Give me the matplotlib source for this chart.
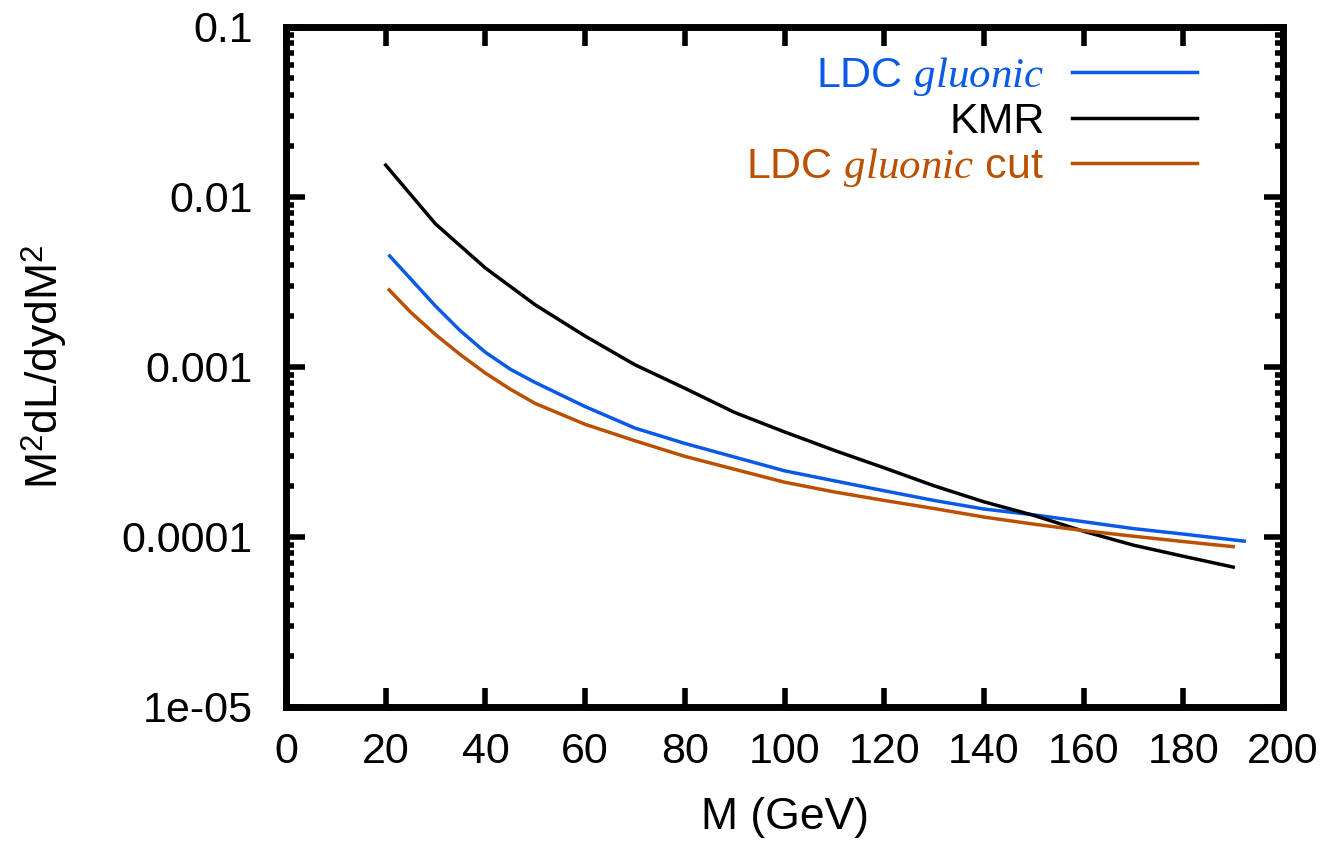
import matplotlib
matplotlib.use("Agg")
import matplotlib.pyplot as plt
from matplotlib.ticker import FixedLocator, FixedFormatter, LogLocator, NullFormatter

plt.rcParams['font.family'] = ['Liberation Sans', 'DejaVu Sans']
plt.rcParams['mathtext.fontset'] = 'custom'
plt.rcParams['mathtext.it'] = 'Liberation Serif:italic'
plt.rcParams['mathtext.rm'] = 'Liberation Sans'

# KMR
m_kmr = [20, 30, 40, 50, 60, 70, 80, 90, 100, 110, 120, 130, 140, 150, 160, 170, 180, 190]
v_kmr = [0.0154, 0.00694, 0.00382, 0.00232, 0.00152, 0.00103, 0.00075, 0.00054, 0.000415,
         0.000323, 0.000255, 0.000200, 0.000161, 0.000134, 0.000108, 0.0000895, 0.0000770, 0.0000665]

# LDC gluonic
m_ldc = [20.8, 25, 30, 35, 40, 45, 50, 60, 70, 80, 90, 100, 110, 120, 130, 140, 150, 160, 170, 180, 192.2]
v_ldc = [0.0045, 0.0033, 0.00228, 0.00163, 0.00122, 0.00097, 0.00081, 0.000585, 0.000437, 0.000355,
         0.000295, 0.000245, 0.000214, 0.000187, 0.000164, 0.000146, 0.000135, 0.000123, 0.000112,
         0.000104, 0.0000945]

# LDC gluonic cut
m_cut = [20.7, 25, 30, 35, 40, 45, 50, 60, 70, 80, 90, 100, 110, 120, 130, 140, 150, 160, 170, 180, 190]
v_cut = [0.00284, 0.0021, 0.00155, 0.00118, 0.00092, 0.00074, 0.000610, 0.000460, 0.000368, 0.000298,
         0.000250, 0.000210, 0.000184, 0.000164, 0.000147, 0.000131, 0.000119, 0.000109, 0.000101,
         0.0000940, 0.0000877]

x_ticks = [0, 20, 40, 60, 80, 100, 120, 140, 160, 180, 200]
y_ticks = [1e-5, 1e-4, 1e-3, 1e-2, 1e-1]
y_labels = ['1e-05', '0.0001', '0.001', '0.01', '0.1']

blue = '#0a5ae6'
orange = '#bb5000'
FS = 31
LFS = 32

fig = plt.figure(figsize=(13.29, 8.49), dpi=100)
ax = fig.add_axes([0.2152, 0.1673, 0.7502, 0.8009])

ax.plot(m_ldc, v_ldc, color=blue, lw=2.5, label=r'LDC $\mathit{gluonic}$')
ax.plot(m_kmr, v_kmr, color='black', lw=2.5, label='KMR')
ax.plot(m_cut, v_cut, color=orange, lw=2.5, label=r'LDC $\mathit{gluonic}$ cut')

ax.set_yscale('log')
ax.set_xlim(0, 200)
ax.set_ylim(1e-5, 0.1)
ax.xaxis.set_major_locator(FixedLocator(x_ticks))
ax.yaxis.set_major_locator(FixedLocator(y_ticks))
ax.yaxis.set_major_formatter(FixedFormatter(y_labels))
ax.yaxis.set_minor_locator(LogLocator(base=10, subs=range(2, 10)))
ax.yaxis.set_minor_formatter(NullFormatter())

for s in ax.spines.values():
    s.set_linewidth(5)

ax.tick_params(which='major', direction='in', length=14, width=4, top=True, right=True,
               labelsize=FS)
ax.tick_params(which='minor', direction='in', length=6, width=4, top=True, right=True)
ax.tick_params(axis='x', which='major', pad=18)
ax.tick_params(axis='y', which='major', pad=24)

ax.set_xlabel('M (GeV)', fontsize=LFS, labelpad=18)
ax.set_ylabel(r'M$^2$dL/dydM$^2$', fontsize=LFS, labelpad=38)

leg = ax.legend(loc='upper right', markerfirst=False, frameon=False, fontsize=FS,
                handlelength=2.9, handletextpad=0.65, labelspacing=0.1, borderpad=0,
                bbox_to_anchor=(0.914, 0.959), borderaxespad=0)
for t, c in zip(leg.get_texts(), [blue, 'black', orange]):
    t.set_color(c)

fig.savefig('out.png', dpi=100)
